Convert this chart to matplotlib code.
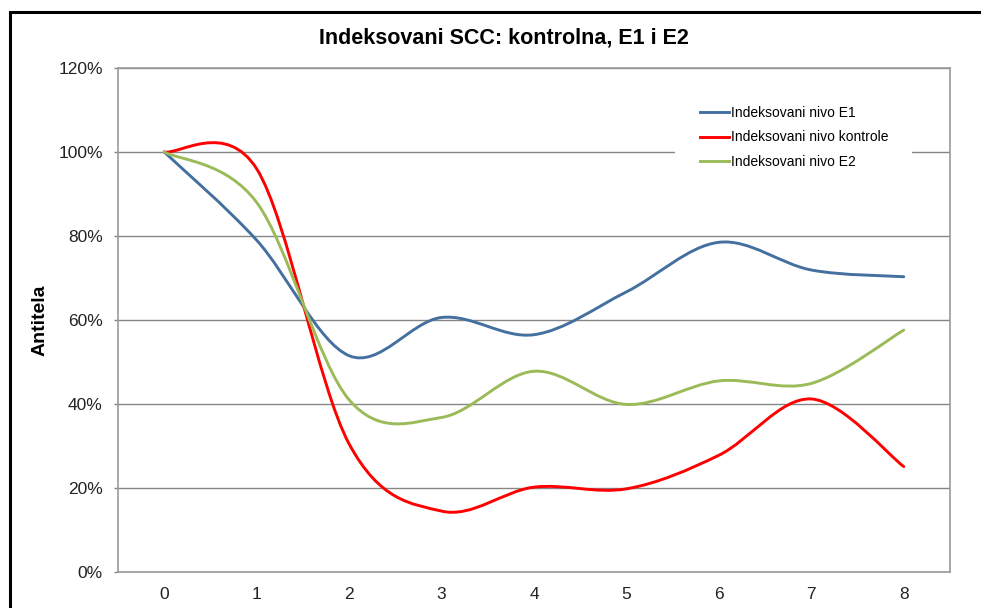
import matplotlib
matplotlib.use("Agg")
import matplotlib.pyplot as plt
from matplotlib.path import Path
from matplotlib.patches import PathPatch, Rectangle
from matplotlib.lines import Line2D
from matplotlib.ticker import FuncFormatter

plt.rcParams["font.family"] = ["Liberation Sans", "DejaVu Sans"]

# data (percent)
days = [0, 1, 2, 3, 4, 5, 6, 7, 8]
nivo_e1 = [100, 79, 51.5, 60.6, 56.5, 66.7, 78.5, 71.9, 70.3]
nivo_kontrole = [100, 96, 30.5, 14.5, 20.2, 19.8, 27.8, 41.2, 25.1]
nivo_e2 = [100, 88, 41, 36.8, 47.8, 39.9, 45.5, 44.9, 57.6]

series = [
    ("Indeksovani nivo E1", nivo_e1, "#44709f"),
    ("Indeksovani nivo kontrole", nivo_kontrole, "#ff0000"),
    ("Indeksovani nivo E2", nivo_e2, "#9bbb59"),
]


def smooth_path(xs, ys):
    """Excel-like smoothed line: cubic Bezier through every point,
    control points from neighbour differences (Catmull-Rom, /6)."""
    pts = list(zip(xs, ys))
    n = len(pts)
    verts = [pts[0]]
    codes = [Path.MOVETO]
    for i in range(n - 1):
        p0 = pts[i - 1] if i > 0 else pts[i]
        p1 = pts[i]
        p2 = pts[i + 1]
        p3 = pts[i + 2] if i + 2 < n else pts[i + 1]
        c1 = (p1[0] + (p2[0] - p0[0]) / 6, p1[1] + (p2[1] - p0[1]) / 6)
        c2 = (p2[0] - (p3[0] - p1[0]) / 6, p2[1] - (p3[1] - p1[1]) / 6)
        verts += [c1, c2, p2]
        codes += [Path.CURVE4] * 3
    return Path(verts, codes)


W, H = 981, 608
fig = plt.figure(figsize=(W / 100, H / 100), dpi=100)
ax = fig.add_axes([118 / W, 1 - 572 / H, (950 - 118) / W, (572 - 68) / H])

handles = []
for label, vals, color in series:
    ax.add_patch(PathPatch(smooth_path(days, vals), fill=False,
                           edgecolor=color, lw=2.1, capstyle="round",
                           zorder=3))
    handles.append(Line2D([], [], color=color, lw=2.1, label=label))

ax.set_xlim(-0.5, 8.5)
ax.set_ylim(0, 120)
ax.set_xticks(days)
ax.set_yticks(range(0, 121, 20))
ax.yaxis.set_major_formatter(FuncFormatter(lambda v, _: f"{v:.0f}%"))
ax.grid(axis="y", color="#868686", lw=1)
ax.set_axisbelow(True)
for s in ax.spines.values():
    s.set_color("#9a9a9a")
    s.set_linewidth(1.2)
ax.tick_params(axis="y", length=3, width=1, color="#868686", pad=8,
               labelsize=12.5, labelcolor="#222222")
ax.tick_params(axis="x", length=0, pad=11, labelsize=12.5,
               labelcolor="#222222")

# white legend area hiding the gridline, as in the Excel chart
ax.add_patch(Rectangle((675 / W, 1 - 182 / H), (912 - 675) / W, 87 / H,
                       transform=fig.transFigure, facecolor="white",
                       edgecolor="none", zorder=2))
leg = ax.legend(handles=handles, loc="upper left",
                bbox_to_anchor=(700 / W, 1 - 106 / H),
                bbox_transform=fig.transFigure, fontsize=10,
                frameon=False, handlelength=2.1, handletextpad=0.12,
                labelspacing=0.75, borderpad=0, borderaxespad=0)
leg.set_zorder(5)

fig.text(504 / W, 1 - 38 / H, "Indeksovani SCC: kontrolna, E1 i E2",
         ha="center", va="center", fontsize=15.5, fontweight="bold")
fig.text(40 / W, 1 - 320 / H, "Antitela", rotation=90, ha="center",
         va="center", fontsize=14, fontweight="bold")

# outer chart frame (cut off at right/bottom in the reference)
fig.add_artist(Rectangle((10 / W, -0.1), 1.2, 1.1 - 12 / H,
                         transform=fig.transFigure, fill=False,
                         ec="black", lw=2.2, clip_on=False))

fig.savefig("out.png", dpi=100)
